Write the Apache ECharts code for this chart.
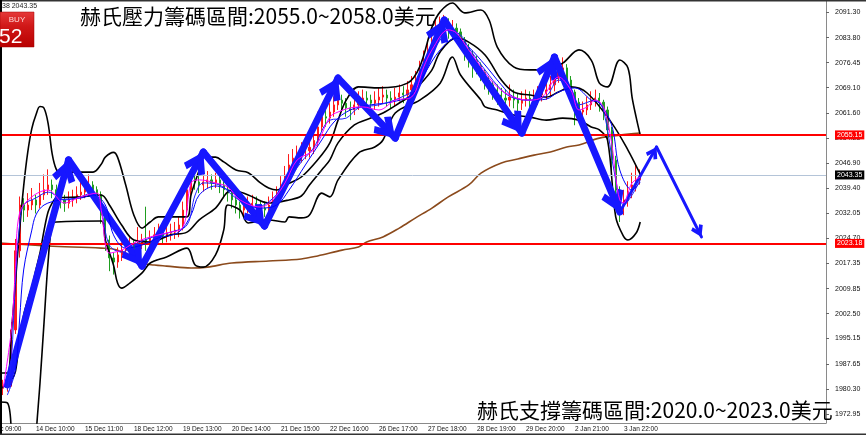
<!DOCTYPE html>
<html><head><meta charset="utf-8">
<script src="https://cdn.jsdelivr.net/npm/echarts@6/dist/echarts.min.js"></script>
<style>html,body{margin:0;padding:0;background:#fff}#c{width:866px;height:435px}</style>
</head><body><div id="c"></div>
<script>
// ---------- DATA ----------
const barCount = 209;
const xTickBars = [2, 15, 27, 39, 51, 63, 75, 87, 99, 111, 123, 135, 147, 159];
const xTickLabels = ['13 Dec 09:00','14 Dec 10:00','15 Dec 11:00','18 Dec 12:00','19 Dec 13:00','20 Dec 14:00','21 Dec 15:00','22 Dec 16:00','26 Dec 17:00','27 Dec 18:00','28 Dec 19:00','29 Dec 20:00','2 Jan 21:00','3 Jan 22:00'];
const yTicks = [1972.95, 1980.30, 1987.65, 1995.15, 2002.50, 2009.85, 2017.35, 2024.70, 2032.05, 2039.40, 2046.90, 2054.25, 2061.60, 2069.10, 2076.45, 2083.80, 2091.30];
const yMin = 1970.27, yMax = 2094.9;

const firstCandleBar = 7;
// [open, close, low, high]
const candles = [
[1980.5,1981.5,1978.5,1983.0],[1981.5,1982.0,1979.5,1984.5],[1982.0,1997.7,1981.0,2000.0],[1997.7,2021.0,1996.5,2024.5],
[2021.0,2034.5,2019.0,2037.0],[2034.5,2033.0,2029.5,2036.5],[2033.0,2034.5,2031.0,2038.0],[2034.5,2036.0,2033.0,2039.5],
[2036.0,2034.5,2032.0,2037.5],[2034.5,2037.5,2033.5,2041.0],[2037.5,2039.0,2036.0,2043.5],[2039.0,2040.4,2037.5,2045.0],
[2040.4,2039.0,2036.5,2042.0],[2039.0,2037.5,2035.0,2040.5],[2037.5,2036.0,2033.5,2039.0],[2036.0,2035.0,2032.5,2037.5],
[2035.0,2036.0,2033.5,2038.5],[2036.0,2036.5,2034.0,2039.0],[2036.5,2037.5,2035.0,2040.0],[2037.5,2038.3,2036.0,2041.5],
[2038.3,2039.5,2036.5,2042.5],[2039.5,2040.4,2037.0,2043.5],[2040.4,2039.0,2036.0,2041.5],[2039.0,2037.5,2034.5,2040.0],
[2037.5,2031.5,2029.0,2038.5],[2031.5,2024.2,2021.0,2032.5],[2024.2,2018.9,2015.0,2025.5],[2018.9,2017.7,2014.0,2020.5],
[2017.7,2019.8,2016.0,2022.0],[2019.8,2021.2,2018.0,2023.5],[2021.2,2021.8,2019.5,2024.0],[2021.8,2022.7,2020.0,2025.0],
[2022.7,2021.2,2019.0,2024.0],[2021.2,2023.3,2020.0,2028.0],[2023.3,2024.2,2021.5,2026.0],[2024.2,2023.6,2021.0,2034.0],
[2023.6,2024.8,2022.0,2027.0],[2024.8,2025.7,2023.0,2028.0],[2025.7,2026.5,2024.0,2029.0],[2026.5,2025.4,2023.0,2028.0],
[2025.4,2026.2,2023.5,2028.5],[2026.2,2026.5,2024.0,2029.0],[2026.5,2027.1,2024.5,2029.5],[2027.1,2028.6,2025.0,2031.0],
[2028.6,2033.0,2027.0,2035.5],[2033.0,2039.0,2031.5,2042.0],[2039.0,2041.9,2037.5,2044.0],[2041.9,2041.3,2039.0,2043.5],
[2041.3,2040.4,2038.0,2043.0],[2040.4,2041.3,2038.5,2043.5],[2041.3,2041.9,2039.5,2044.5],[2041.9,2041.0,2039.0,2043.5],
[2041.0,2041.9,2039.5,2044.0],[2041.9,2040.4,2038.0,2043.0],[2040.4,2039.0,2036.5,2041.5],[2039.0,2038.0,2035.5,2040.5],
[2038.0,2036.0,2033.5,2039.0],[2036.0,2034.5,2032.0,2037.0],[2034.5,2033.0,2030.5,2035.5],[2033.0,2033.9,2031.0,2036.0],
[2033.9,2034.5,2032.0,2037.0],[2034.5,2035.0,2032.5,2037.5],[2035.0,2034.5,2032.0,2037.0],[2034.5,2033.6,2031.5,2036.0],
[2033.6,2033.0,2031.0,2035.5],[2033.0,2034.5,2031.5,2037.0],[2034.5,2036.0,2033.0,2038.5],[2036.0,2037.5,2034.5,2040.0],
[2037.5,2040.4,2036.0,2043.0],[2040.4,2043.3,2039.0,2046.0],[2043.3,2046.3,2042.0,2049.5],[2046.3,2048.3,2044.5,2051.0],
[2048.3,2049.2,2046.0,2052.0],[2049.2,2050.1,2047.0,2053.0],[2050.1,2050.5,2048.0,2053.5],[2050.5,2051.5,2048.5,2055.0],
[2051.5,2053.5,2049.5,2057.0],[2053.5,2057.5,2052.0,2062.0],[2057.5,2060.5,2056.0,2063.5],[2060.5,2060.1,2057.5,2062.5],
[2060.1,2061.9,2058.5,2064.5],[2061.9,2064.0,2060.5,2066.5],[2064.0,2065.4,2062.5,2068.0],[2065.4,2064.5,2062.0,2067.0],
[2064.5,2063.1,2060.5,2066.0],[2063.1,2062.5,2059.5,2065.0],[2062.5,2064.0,2061.0,2066.5],[2064.0,2065.4,2062.5,2068.0],
[2065.4,2066.0,2063.5,2068.5],[2066.0,2065.4,2063.0,2068.0],[2065.4,2064.5,2062.0,2067.0],[2064.5,2065.4,2062.5,2068.0],
[2065.4,2066.3,2063.5,2069.0],[2066.3,2066.9,2064.5,2069.5],[2066.9,2066.0,2063.5,2068.5],[2066.0,2065.4,2063.0,2068.0],
[2065.4,2066.3,2063.5,2069.0],[2066.3,2067.5,2065.0,2070.0],[2067.5,2066.9,2064.5,2069.5],[2066.9,2068.4,2065.0,2071.0],
[2068.4,2069.9,2066.5,2072.5],[2069.9,2071.3,2068.0,2074.0],[2071.3,2074.3,2070.0,2077.0],[2074.3,2077.2,2072.5,2080.0],
[2077.2,2080.2,2075.5,2083.0],[2080.2,2083.1,2078.5,2086.0],[2083.1,2086.1,2081.5,2089.0],[2086.1,2087.0,2084.0,2090.0],
[2087.0,2087.5,2084.5,2090.5],[2087.5,2086.1,2083.5,2089.5],[2086.1,2086.6,2084.0,2089.0],[2086.6,2085.5,2082.5,2088.0],
[2085.5,2083.1,2080.5,2086.5],[2083.1,2080.8,2077.0,2084.0],[2080.8,2078.7,2075.0,2082.0],[2078.7,2077.2,2072.0,2080.0],
[2077.2,2075.7,2073.0,2078.5],[2075.7,2073.7,2071.0,2076.5],[2073.7,2071.3,2068.5,2074.5],[2071.3,2069.9,2067.0,2072.5],
[2069.9,2068.4,2065.5,2071.0],[2068.4,2066.9,2064.0,2070.0],[2066.9,2066.0,2063.5,2069.0],[2066.0,2065.4,2062.5,2068.5],
[2065.4,2066.3,2063.5,2070.0],[2066.3,2065.4,2063.0,2068.5],[2065.4,2064.5,2062.0,2067.5],[2064.5,2065.4,2062.5,2068.0],
[2065.4,2066.0,2063.5,2068.5],[2066.0,2065.4,2063.0,2068.0],[2065.4,2066.0,2063.5,2068.5],[2066.0,2066.9,2064.0,2069.5],
[2066.9,2067.5,2065.0,2070.0],[2067.5,2068.4,2065.5,2071.0],[2068.4,2069.9,2066.5,2072.5],[2069.9,2071.9,2068.0,2074.5],
[2071.9,2074.3,2070.5,2077.0],[2074.3,2074.9,2072.0,2078.0],[2074.9,2071.3,2069.0,2076.0],[2071.3,2067.8,2065.0,2072.5],
[2067.8,2064.8,2058.0,2068.5],[2064.8,2061.9,2059.0,2066.0],[2061.9,2062.5,2060.0,2065.0],[2062.5,2064.0,2061.0,2066.5],
[2064.0,2065.4,2062.5,2068.0],[2065.4,2066.0,2063.5,2068.5],[2066.0,2064.8,2062.0,2067.5],[2064.8,2062.5,2059.5,2065.5],
[2062.5,2056.6,2053.5,2063.5],[2056.6,2047.7,2044.0,2057.5],[2047.7,2038.9,2034.0,2049.0],[2038.9,2034.5,2029.5,2040.0],
[2034.5,2036.0,2031.5,2039.0],[2036.0,2038.3,2034.0,2041.5],[2038.3,2040.4,2036.5,2044.0],[2040.4,2041.9,2038.5,2046.5],
[2041.9,2043.35,2040.5,2045.0]
];

// indicator lines: [bar, price]
const bbUpper = [[6,1985.0],[8,1985.0],[9,1997.0],[10,2012.0],[11,2027.0],[12,2040.0],[13,2050.0],[14,2057.0],[15,2061.0],[16,2063.5],[17,2063.0],[18,2058.5],[19,2049.5],[20,2045.0],[21,2044.2],[29,2044.2],[31,2046.5],[32,2048.6],[34,2050.0],[35,2048.6],[37,2040.4],[39,2031.5],[41,2027.7],[43,2029.5],[45,2031.0],[52,2031.0],[53,2037.5],[55,2044.8],[56,2048.6],[59,2048.6],[61,2047.2],[64,2044.8],[67,2044.0],[70,2041.0],[72,2039.5],[74,2038.9],[77,2040.9],[80,2042.75],[84,2047.8],[87,2052.8],[89,2059.5],[91,2065.4],[94,2069.3],[99,2069.0],[106,2070.4],[109,2075.2],[112,2086.9],[114,2091.4],[117,2094.0],[120,2091.1],[124,2091.95],[126,2089.0],[128,2081.05],[132,2075.2],[136,2074.3],[140,2074.3],[144,2076.3],[148,2080.2],[151,2077.2],[153,2070.4],[155,2069.3],[158,2077.2],[160,2074.9],[161,2066.3],[162,2060.4],[163,2055.1]];
const bbMiddle = [[6,1980.0],[9,1983.0],[10,1985.5],[11,1994.7],[12,2002.0],[13,2006.5],[14,2010.3],[15,2015.35],[16,2020.35],[17,2027.0],[18,2032.5],[19,2035.1],[20,2036.55],[26,2036.9],[31,2037.45],[33,2034.5],[36,2028.6],[39,2024.2],[43,2023.6],[48,2025.7],[52,2026.5],[55,2030.1],[59,2033.6],[63,2038.9],[67,2037.45],[72,2035.1],[77,2036.0],[80,2037.15],[82,2040.4],[85,2044.8],[87,2047.8],[89,2052.8],[93,2058.1],[97,2060.1],[100,2061.6],[104,2064.55],[107,2066.9],[109,2069.9],[112,2074.3],[114,2079.6],[118,2083.7],[121,2082.5],[125,2078.7],[129,2071.3],[132,2067.8],[136,2066.9],[140,2066.3],[143,2067.8],[146,2069.3],[150,2067.5],[156,2058.7],[160,2050.7],[163,2043.6]];
const bbLower = [[6,1976.45],[8,1976.2],[9,1968.0],[10,1950.0],[11,1932.0],[12,1926.0],[13,1930.0],[14,1945.0],[15,1966.0],[16,1982.0],[17,2000.0],[18,2018.0],[19,2029.0],[20,2029.5],[31,2029.8],[32,2024.2],[34,2016.8],[35,2011.5],[36,2010.0],[38,2011.5],[41,2014.5],[43,2017.4],[47,2019.2],[52,2021.8],[54,2016.8],[56,2016.2],[59,2019.8],[61,2027.1],[62,2034.5],[65,2033.0],[67,2029.2],[72,2030.1],[76,2029.5],[77,2031.0],[80,2030.7],[82,2031.55],[85,2038.0],[87,2036.9],[89,2041.9],[94,2049.8],[98,2051.6],[100,2053.65],[103,2061.6],[109,2065.4],[114,2070.4],[117,2078.1],[119,2072.8],[124,2065.4],[125,2063.4],[128,2062.5],[132,2061.0],[136,2060.4],[140,2059.5],[144,2060.1],[148,2059.5],[151,2057.5],[153,2056.6],[155,2053.65],[157,2031.0],[159,2025.1],[160,2024.2],[162,2026.25],[163,2029.5]];
const maLong = [[6,2023.3],[18,2022.4],[31,2021.8],[35,2021.2],[41,2017.4],[44,2016.8],[47,2016.5],[53,2015.95],[57,2016.2],[63,2017.4],[72,2018.0],[80,2018.6],[84,2019.5],[90,2021.2],[94,2022.1],[96,2023.6],[100,2025.1],[104,2027.7],[108,2030.7],[112,2033.6],[116,2036.9],[121,2040.4],[124,2043.9],[129,2046.9],[133,2048.05],[137,2049.2],[141,2050.1],[145,2051.6],[148,2052.2],[153,2054.2],[158,2055.1],[163,2055.7]];
const maBlueSlow = [[8,1978.5],[10,1985.9],[11,2000.6],[12,2015.35],[14,2027.1],[15,2031.55],[17,2034.5],[21,2036.0],[26,2036.55],[29,2037.45],[32,2034.5],[34,2025.7],[37,2021.8],[41,2022.7],[45,2024.8],[50,2026.5],[53,2031.55],[55,2037.45],[59,2040.1],[63,2038.3],[66,2035.1],[70,2033.6],[74,2034.5],[77,2038.9],[81,2046.3],[85,2053.65],[88,2058.95],[92,2062.5],[97,2064.0],[102,2064.8],[107,2066.9],[110,2072.8],[114,2080.2],[118,2083.7],[121,2081.05],[125,2075.75],[129,2069.9],[132,2066.3],[136,2065.4],[140,2065.7],[143,2067.8],[147,2069.0],[151,2065.4],[153,2064.55],[156,2058.1],[158,2044.8],[161,2038.9],[163,2041.3]];
const maBlueFast = [[8,1980.0],[9,1988.8],[10,2012.4],[11,2028.6],[12,2034.5],[15,2036.55],[18,2038.3],[22,2036.0],[26,2036.9],[29,2038.3],[31,2033.0],[33,2022.7],[36,2020.65],[39,2022.7],[43,2024.8],[48,2026.5],[52,2028.6],[54,2037.45],[56,2041.0],[60,2040.4],[64,2036.55],[69,2033.9],[72,2035.4],[76,2040.4],[80,2047.2],[83,2051.3],[87,2059.5],[91,2060.1],[94,2063.1],[99,2064.0],[104,2066.0],[108,2069.0],[110,2075.75],[114,2083.1],[116,2086.1],[119,2084.6],[121,2080.8],[125,2074.3],[129,2068.4],[132,2066.0],[136,2065.4],[140,2066.6],[143,2071.3],[146,2069.0],[148,2064.0],[152,2065.4],[154,2062.5],[157,2041.9],[159,2034.5],[161,2037.45],[163,2041.9]];
const maMagenta = [[7,1980.6],[9,1997.7],[10,2016.0],[11,2032.1],[14,2036.9],[18,2038.9],[22,2035.1],[26,2036.9],[30,2038.0],[31,2033.0],[33,2020.35],[36,2021.2],[39,2023.3],[43,2025.1],[47,2026.25],[51,2028.0],[53,2041.0],[55,2041.9],[59,2041.0],[62,2039.8],[65,2036.0],[70,2033.9],[73,2036.0],[76,2041.0],[79,2047.8],[83,2050.7],[87,2060.4],[89,2061.9],[92,2063.1],[95,2063.4],[99,2062.5],[103,2065.4],[107,2066.3],[110,2075.2],[112,2080.2],[116,2086.1],[118,2085.2],[121,2080.2],[124,2075.2],[128,2069.3],[132,2066.3],[136,2065.4],[139,2066.3],[143,2072.2],[146,2068.4],[148,2062.5],[150,2063.4],[152,2065.4],[154,2063.4],[156,2052.8],[157,2042.75],[158,2036.0],[159,2035.1],[160,2038.0],[161,2041.0],[163,2042.75]];

const resistanceLevel = 2055.15;
const supportLevel = 2023.18;
const lastPrice = 2043.35;

// hand-drawn arrow path vertices: [bar, price]
const arrowPath = [[8,1981.5],[23,2047.8],[41,2016.5],[56,2050.1],[71,2028.3],[89,2071.9],[103,2054.2],[115,2089.0],[134,2055.7],[142,2078.1],[158,2032.4],[167,2051.6],[178,2025.1]];
const thinArrowFrom = 10;

const titleTop = '赫氏壓力籌碼區間:2055.0~2058.0美元';
const titleBottom = '赫氏支撐籌碼區間:2020.0~2023.0美元';

// ---------- CHART ----------
const cats = Array.from({length: barCount}, (_, i) => String(i));
const labelMap = new Map(xTickBars.map((b, k) => [b, xTickLabels[k]]));
const chev = 'path://M0,0L11,17L6,21L0,11L-6,21L-11,17ZM0,-21L0,-20.99';
const arrowColor = '#1717ff';
const arrowData = [];
for (let k = 0; k < arrowPath.length - 1; k++) {
  const thick = k < thinArrowFrom;
  arrowData.push([
    {coord: arrowPath[k], symbol: 'none'},
    {coord: arrowPath[k + 1], symbol: chev, symbolSize: thick ? [24, 46] : [13, 25],
     lineStyle: {color: arrowColor, width: thick ? 7 : 3, type: 'solid', cap: 'round'}}
  ]);
}
function lineSeries(name, data, color, width, z) {
  return {name, type: 'line', data, smooth: 0.35, showSymbol: false, symbol: 'none', z: z || 3,
    lineStyle: {color, width}, emphasis: {disabled: true}, silent: true};
}
const priceLabel = (bg) => ({show: true, position: 'end', distance: 9, formatter: p => p.value.toFixed(2),
  color: '#fff', backgroundColor: bg, fontSize: 7, fontFamily: 'Liberation Sans', padding: [1, 2, 0, 2], lineHeight: 8});

const chart = echarts.init(document.getElementById('c'), null, {renderer: 'canvas'});
chart.setOption({
  animation: false,
  backgroundColor: '#fff',
  grid: {left: -27.4, right: 40, top: 0, bottom: 12, containLabel: false, outerBoundsMode: 'none'},
  xAxis: {
    type: 'category', data: cats, boundaryGap: true,
    axisLine: {lineStyle: {color: '#8a8a8a', width: 1}},
    axisTick: {alignWithLabel: true, interval: (i) => labelMap.has(i), length: 3, lineStyle: {color: '#666'}},
    axisLabel: {interval: (i) => labelMap.has(i), formatter: (v, i) => labelMap.get(i) || '', align: 'left',
      fontSize: 6.5, fontFamily: 'Liberation Sans', color: '#111', margin: 3},
    splitLine: {show: false}
  },
  yAxis: {
    type: 'value', position: 'right', min: yMin, max: yMax, scale: true,
    axisLine: {show: true, lineStyle: {color: '#8a8a8a'}},
    axisTick: {show: true, length: 3, customValues: yTicks, lineStyle: {color: '#666'}},
    axisLabel: {customValues: yTicks, formatter: v => v.toFixed(2), fontSize: 7, fontFamily: 'Liberation Sans', color: '#111', margin: 9},
    splitLine: {show: false}
  },
  series: [
    {name: 'levels', type: 'line', data: [], z: 2,
      markLine: {silent: true, symbol: 'none', animation: false, precision: 2,
        data: [
          {yAxis: lastPrice, lineStyle: {color: '#b4c4d8', width: 1, type: 'solid'}, label: priceLabel('#000')},
          {yAxis: resistanceLevel, lineStyle: {color: '#ff0000', width: 2, type: 'solid'}, label: priceLabel('#ff0000')},
          {yAxis: supportLevel, lineStyle: {color: '#ff0000', width: 2, type: 'solid'}, label: priceLabel('#ff0000')}
        ]}},
    {name: 'price', type: 'candlestick', z: 3,
      data: candles.map((c, k) => [firstCandleBar + k, c[0], c[1], c[2], c[3]]),
      encode: {x: 0, y: [1, 2, 3, 4]}, barWidth: 1.6,
      itemStyle: {color: '#ff1a1a', color0: '#1f9e1f', borderColor: '#ff1a1a', borderColor0: '#1f9e1f', borderWidth: 1},
      emphasis: {disabled: true}, silent: true},
    lineSeries('maLong', maLong, '#8b4a1c', 1.6),
    lineSeries('bbUpper', bbUpper, '#000', 1.6, 4),
    lineSeries('bbMiddle', bbMiddle, '#000', 1.6, 4),
    lineSeries('bbLower', bbLower, '#000', 1.6, 4),
    lineSeries('maBlueSlow', maBlueSlow, '#0000ff', 1, 5),
    lineSeries('maBlueFast', maBlueFast, '#2020ff', 1, 5),
    lineSeries('maMagenta', maMagenta, '#ff00ff', 1, 5),
    {name: 'arrows', type: 'line', data: [], z: 8,
      markLine: {silent: true, animation: false, symbol: ['none', chev], label: {show: false}, data: arrowData}}
  ],
  graphic: [
    {type: 'rect', shape: {x: 0, y: 0, width: 866, height: 1.5}, style: {fill: '#333'}, z: 100},
    {type: 'rect', shape: {x: 0, y: 0, width: 2, height: 435}, style: {fill: '#000'}, z: 100},
    {type: 'rect', shape: {x: 0, y: 433.5, width: 866, height: 1.5}, style: {fill: '#333'}, z: 100},
    {type: 'text', x: 2, y: 6, style: {text: '38 2043.35', fontSize: 7, fontFamily: 'Liberation Sans', fill: '#222', verticalAlign: 'middle'}, z: 100},
    {type: 'rect', shape: {x: 0, y: 12, width: 34, height: 35},
      style: {fill: new echarts.graphic.LinearGradient(0, 0, 0, 1, [{offset: 0, color: '#e63a3a'}, {offset: 0.4, color: '#d01818'}, {offset: 1, color: '#b80000'}]), stroke: '#a00000', lineWidth: 0.5}, z: 100},
    {type: 'text', x: 17, y: 19.5, style: {text: 'BUY', fontSize: 8, fontFamily: 'Liberation Sans', fill: '#ffd8d8', align: 'center', verticalAlign: 'middle'}, z: 101},
    {type: 'text', x: -1, y: 37, style: {text: '52', fontSize: 21, fontFamily: 'Liberation Sans', fill: '#fff', verticalAlign: 'middle'}, z: 101},
    {type: 'text', x: 80, y: 16, style: {text: titleTop, fontSize: 21, fontFamily: 'Noto Sans CJK TC', fill: '#000', verticalAlign: 'middle'}, z: 100},
    {type: 'text', x: 477, y: 410, style: {text: titleBottom, fontSize: 21, fontFamily: 'Noto Sans CJK TC', fill: '#000', verticalAlign: 'middle'}, z: 100}
  ]
});
</script></body></html>
